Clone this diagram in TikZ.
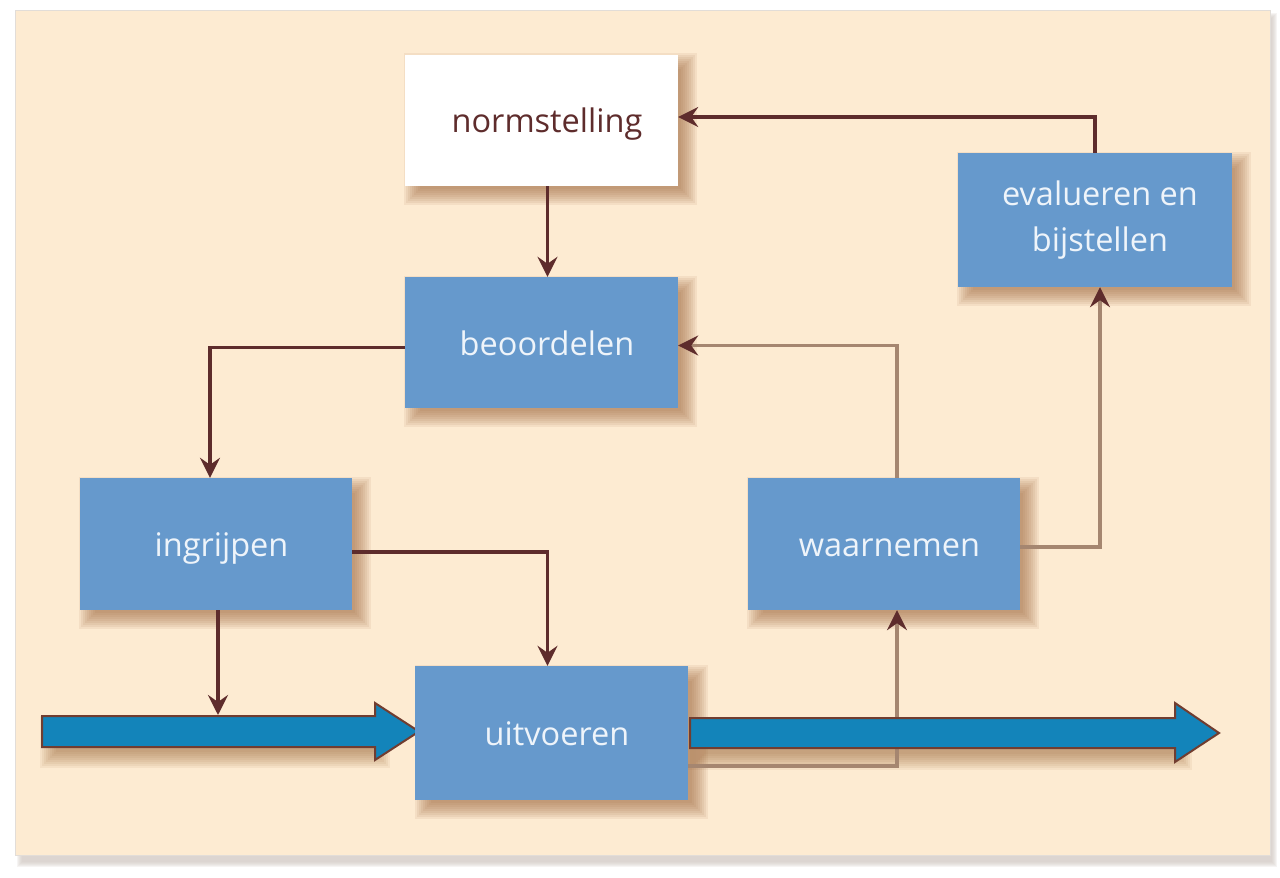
\documentclass[tikz,border=0pt]{standalone}
\usepackage{fontspec}
\setmainfont{Open Sans}
\usetikzlibrary{arrows.meta,calc}
\definecolor{cream}{HTML}{FDEBD2}
\definecolor{boxblue}{HTML}{6699CC}
\definecolor{bigblue}{HTML}{1384BA}
\definecolor{darkbr}{HTML}{5E2C2C}
\definecolor{lightbr}{HTML}{A58670}
\definecolor{shadowbr}{HTML}{9A6438}
\definecolor{txtlight}{HTML}{EEF4FA}
\definecolor{panelgray}{HTML}{CFC6BF}
\pgfdeclarelayer{back}
\pgfdeclarelayer{bg}
\pgfsetlayers{back,bg,main}
\tikzset{
  box/.style={rectangle, fill=boxblue, text=txtlight, minimum width=273pt, minimum height=131pt,
    inner sep=0pt, align=center, font=\fontsize{32.5}{46}\selectfont},
  oneline/.style={text height=31pt, text depth=6pt, execute at begin node={\hspace*{11pt}}},
  whitebox/.style={box, fill=white, text=darkbr},
  con/.style={line width=3.5pt, draw=darkbr, -{Stealth[length=20pt,width=20pt,inset=7pt,fill=darkbr,color=darkbr]}},
  conlight/.style={con, draw=lightbr},
  bigarrow/.style={fill=bigblue, draw=darkbr!80!brown, line width=2pt, line join=miter},
}
\newcommand{\softshadow}[1]{%
  \foreach \k in {0,...,8}{%
    \pgfmathsetmacro{\r}{(\k-3)*2}%
    \fill[shadowbr, opacity=0.09]
      ($(#1.north west)+(9-\r,9-\r)$) rectangle ($(#1.south east)+(9+\r,9+\r)$);
  }}
\begin{document}
\begin{tikzpicture}[x=1pt,y=-1pt]
\useasboundingbox (0,0) rectangle (1280,878);
\begin{pgfonlayer}{back}
\fill[white] (0,0) rectangle (1280,878);
\foreach \k in {0,...,5}{
  \fill[panelgray, opacity=0.18] (22-\k,18-\k) rectangle (1272+\k,862+\k);
}
\fill[cream] (15,10) rectangle (1270,855);
\draw[panelgray!60, line width=1pt] (15,10) rectangle (1270,855);
\end{pgfonlayer}

% nodes
\node[whitebox, oneline] (norm) at (541.5,120) {normstelling};
\node[box, oneline] (beo) at (541.5,342.5) {beoordelen};
\node[box, minimum height=134pt, minimum width=274pt] (eva) at (1095,220) {\hspace*{10pt}evalueren en\\\hspace*{10pt}bijstellen};
\node[box, oneline, minimum width=272pt, minimum height=132pt] (ing) at (216,544) {ingrijpen};
\node[box, oneline, minimum width=272pt, minimum height=132pt] (waa) at (884,544) {waarnemen};

\begin{pgfonlayer}{bg}
  \softshadow{norm}
  \softshadow{beo}
  \softshadow{eva}
  \softshadow{ing}
  \softshadow{waa}
  \foreach \k in {0,...,8}{
    \pgfmathsetmacro{\r}{(\k-3)*2}
    \fill[shadowbr, opacity=0.09] (424.5-\r,675-\r) rectangle (697.5+\r,809+\r);
    \fill[shadowbr, opacity=0.08] (50-\r,726-\r) rectangle (380+\r,758+\r);
    \fill[shadowbr, opacity=0.08] (698-\r,728-\r) rectangle (1182+\r,760+\r);
  }
\end{pgfonlayer}

% big arrows and uitvoeren
\draw[bigarrow] (42,716) -- (375,716) -- (375,703) -- (419,731.5) -- (375,760) -- (375,747) -- (42,747) -- cycle;
\node[box, oneline, minimum height=134pt] (uit) at (551.5,733) {uitvoeren};

\begin{pgfonlayer}{bg}
  % connectors
  \draw[con] ([xshift=6pt]norm.south) -- ([xshift=6pt]beo.north);
  \draw[con] (eva.north) |- ([yshift=3pt]norm.east);
  \draw[conlight] ([xshift=13pt]waa.north) |- ([yshift=-3pt]beo.east);
  \draw[con] ([yshift=-5pt]beo.west) -| ([xshift=-6pt]ing.north);
  \draw[con] ([yshift=-8pt]ing.east) -| ([xshift=-4pt]uit.north);
  \coordinate (bigtop) at (218,715);
  \draw[con] ([xshift=2pt]ing.south) -- (bigtop);
  \draw[conlight] ([yshift=-33pt]uit.east) -| ([xshift=13pt]waa.south);
  \draw[conlight] ([yshift=-3pt]waa.east) -| ([xshift=5pt]eva.south);
\end{pgfonlayer}

\draw[bigarrow] (690,718) -- (1175,718) -- (1175,703) -- (1219,733) -- (1175,762) -- (1175,748) -- (690,748) -- cycle;
\end{tikzpicture}
\end{document}
